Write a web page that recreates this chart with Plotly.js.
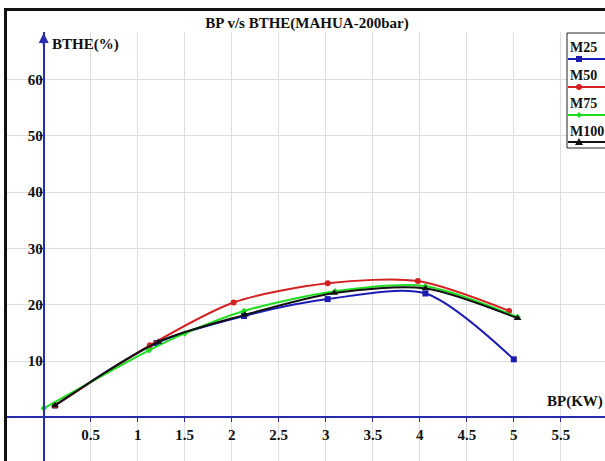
<!DOCTYPE html>
<html>
<head>
<meta charset="utf-8">
<script src="https://cdn.plot.ly/plotly-3.0.1.min.js"></script>
<style>
  html, body { margin: 0; padding: 0; background: #fff; overflow: hidden; }
  #chart { position: absolute; left: 0; top: 0; width: 605px; height: 461px; }
  #frame { position: absolute; left: 4px; top: 8px; width: 700px; height: 700px;
           border-left: 3px solid #111; border-top: 3px solid #111; pointer-events: none; }
</style>
</head>
<body>
<div id="chart"></div>
<div id="frame"></div>
<script>
// ---- data ----
const seriesNames = ["M25", "M50", "M75", "M100"];
const m25X  = [0.12, 1.20, 2.13, 3.02, 4.06, 5.00];
const m25Y  = [2.1, 13.2, 18.0, 21.0, 22.0, 10.3];
const m50X  = [0.12, 1.13, 2.02, 3.02, 3.98, 4.95];
const m50Y  = [2.1, 12.8, 20.4, 23.8, 24.2, 18.9];
const m75X  = [0.00, 1.12, 1.50, 2.13, 3.10, 4.06, 5.04];
const m75Y  = [1.6, 11.9, 14.9, 18.9, 22.4, 23.3, 17.8];
const m100X = [0.12, 1.22, 2.14, 3.09, 4.06, 5.04];
const m100Y = [2.1, 13.4, 18.2, 22.1, 22.9, 17.6];
const xTickVals = [0.5, 1, 1.5, 2, 2.5, 3, 3.5, 4, 4.5, 5, 5.5];
const yTickVals = [10, 20, 30, 40, 50, 60];

// ---- styling ----
const colors = ["#1c1cb4", "#d42020", "#1fdc1f", "#111111"];
const symbols = ["square", "circle", "diamond", "triangle-up"];
const msizes = [6, 6, 5, 7];
const axisBlue = "#2b2bb0";
const serif = "Liberation Serif, Times New Roman, serif";
const W = 605, H = 461;
const M = { l: 7, r: 0, t: 32, b: 0 };
const xRange = [-0.39, 5.97];
const yRange = [-7.76, 68.45];

const xs = [m25X, m50X, m75X, m100X];
const ys = [m25Y, m50Y, m75Y, m100Y];
const traces = seriesNames.map((n, i) => ({
  type: "scatter", mode: "lines+markers", name: n,
  x: xs[i], y: ys[i],
  line: { color: colors[i], width: 2, shape: "spline", smoothing: 0.8 },
  marker: { color: colors[i], symbol: symbols[i], size: msizes[i] },
  hoverinfo: "skip"
}));

// pixel -> paper helpers for decorations (legend box etc.)
const PW = W - M.l - M.r, PH = H - M.t - M.b;
const px = v => (v - M.l) / PW;
const py = v => (H - M.b - v) / PH;

const tickFont = { family: serif, size: 15, color: "#111", weight: "bold" };
const labelFont = { family: serif, size: 15, color: "#111", weight: "bold" };
const shapes = [];
const annotations = [
  { xref: "x", yref: "paper", x: 0, y: py(33), ax: 0, ay: 14, text: "", showarrow: true,
    arrowhead: 2, arrowsize: 1, arrowwidth: 2, arrowcolor: axisBlue },
  { xref: "paper", yref: "paper", x: px(50), y: py(44), xanchor: "left", yanchor: "middle",
    text: "BTHE(%)", showarrow: false, font: labelFont },
  { xref: "paper", yref: "paper", x: px(605), y: py(401), xanchor: "right", yanchor: "middle",
    text: "BP(KW)", showarrow: false, font: labelFont }
];

// custom legend (text above line, as in the reference)
shapes.push({ type: "rect", xref: "paper", yref: "paper", x0: px(567), x1: px(607), y0: py(148), y1: py(33),
  line: { color: "#222", width: 1 }, fillcolor: "#fff", layer: "above" });
const legTextY = [48, 76, 104, 131];
const legLineY = [59, 87, 115, 142];
const legMarkX = 579;
seriesNames.forEach((n, i) => {
  annotations.push({ xref: "paper", yref: "paper", x: px(568), y: py(legTextY[i]), xanchor: "left", yanchor: "middle",
    text: n, showarrow: false, font: { family: serif, size: 14, color: "#111", weight: "bold" } });
  shapes.push({ type: "line", xref: "paper", yref: "paper", x0: px(568), x1: px(607), y0: py(legLineY[i]), y1: py(legLineY[i]),
    line: { color: colors[i], width: 2 }, layer: "above" });
  const cx = legMarkX, cy = legLineY[i];
  if (symbols[i] === "square") {
    shapes.push({ type: "rect", xref: "paper", yref: "paper", x0: px(cx - 3), x1: px(cx + 3), y0: py(cy + 3), y1: py(cy - 3),
      fillcolor: colors[i], line: { width: 0 }, layer: "above" });
  } else if (symbols[i] === "circle") {
    shapes.push({ type: "circle", xref: "paper", yref: "paper", x0: px(cx - 3), x1: px(cx + 3), y0: py(cy + 3), y1: py(cy - 3),
      fillcolor: colors[i], line: { width: 0 }, layer: "above" });
  } else if (symbols[i] === "diamond") {
    shapes.push({ type: "path", xref: "paper", yref: "paper",
      path: `M ${px(cx)} ${py(cy - 3)} L ${px(cx + 3)} ${py(cy)} L ${px(cx)} ${py(cy + 3)} L ${px(cx - 3)} ${py(cy)} Z`,
      fillcolor: colors[i], line: { width: 0 }, layer: "above" });
  } else {
    shapes.push({ type: "path", xref: "paper", yref: "paper",
      path: `M ${px(cx)} ${py(cy - 4)} L ${px(cx + 4)} ${py(cy + 3)} L ${px(cx - 4)} ${py(cy + 3)} Z`,
      fillcolor: colors[i], line: { width: 0 }, layer: "above" });
  }
});

const layout = {
  width: W, height: H,
  margin: M,
  paper_bgcolor: "#fff", plot_bgcolor: "#fff",
  showlegend: false,
  title: { text: "BP v/s BTHE(MAHUA-200bar)", x: 307 / W, xanchor: "center", xref: "container",
           y: 1 - 23 / H, yanchor: "middle", yref: "container",
           font: { family: serif, size: 15, color: "#111", weight: "bold" } },
  xaxis: {
    range: xRange, anchor: "free", position: (0 - yRange[0]) / (yRange[1] - yRange[0]),
    showline: true, linecolor: axisBlue, linewidth: 2,
    tickvals: xTickVals, ticktext: xTickVals.map(String),
    ticks: "outside", ticklen: 4, tickcolor: axisBlue, tickwidth: 1,
    showgrid: true, gridcolor: "#dedede", gridwidth: 1, zeroline: false,
    tickfont: tickFont, fixedrange: true
  },
  yaxis: {
    range: yRange, anchor: "free", position: (0 - xRange[0]) / (xRange[1] - xRange[0]),
    showline: true, linecolor: axisBlue, linewidth: 2,
    tickvals: yTickVals, ticktext: yTickVals.map(String),
    ticks: "outside", ticklen: 4, tickcolor: axisBlue, tickwidth: 1, ticklabelstandoff: -7,
    showgrid: true, gridcolor: "#dedede", gridwidth: 1, zeroline: false,
    tickfont: tickFont, fixedrange: true
  },
  shapes: shapes,
  annotations: annotations
};

Plotly.newPlot("chart", traces, layout, { staticPlot: true, displayModeBar: false });
</script>
</body>
</html>
